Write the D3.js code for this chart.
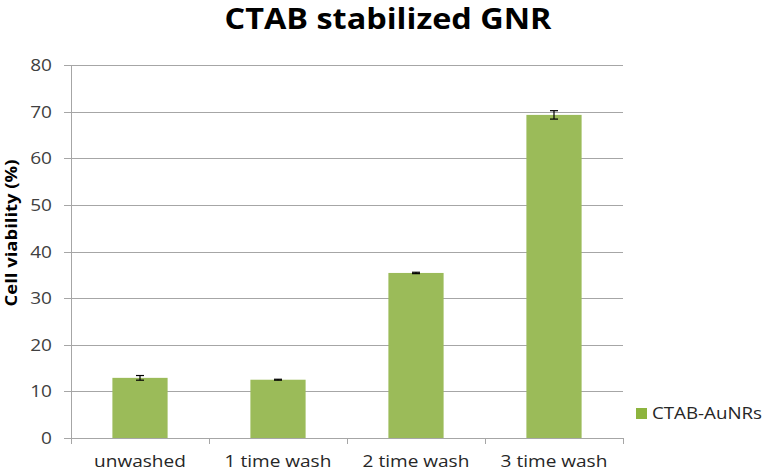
<!DOCTYPE html>
<html>
<head>
<meta charset="utf-8">
<script src="https://cdn.jsdelivr.net/npm/d3@7"></script>
<style>
  body { margin: 0; background: #fff; }
  text { font-family: "Open Sans", "Liberation Sans", sans-serif; }
</style>
</head>
<body>
<div id="chart"></div>
<script>
const categories = ["unwashed", "1 time wash", "2 time wash", "3 time wash"];
const viability = [12.9, 12.5, 35.4, 69.3];
const errors = [0.5, 0.1, 0.15, 0.9];
const yTicks = [0, 10, 20, 30, 40, 50, 60, 70, 80];
const seriesName = "CTAB-AuNRs";

const width = 765;
const height = 474;
const margin = { top: 65, right: 142, bottom: 36, left: 71 };
const green = "#9bbb59";
const gridColor = "#a6a6a6";

const svg = d3.select("#chart").append("svg").attr("width", width).attr("height", height);

const x = d3.scaleBand()
    .domain(categories)
    .range([margin.left, width - margin.right])
    .paddingInner(0.6)
    .paddingOuter(0.3);

const y = d3.scaleLinear()
    .domain([0, 80])
    .range([height - margin.bottom, margin.top]);

// stretch text horizontally a bit, the source font is wider than Open Sans
function widen(sel, factor) {
    sel.each(function () {
        const len = this.getComputedTextLength();
        d3.select(this).attr("textLength", len * factor).attr("lengthAdjust", "spacingAndGlyphs");
    });
}

// gridlines
svg.append("g")
    .selectAll("line")
    .data(yTicks)
    .join("line")
    .attr("x1", margin.left - 7)
    .attr("x2", width - margin.right)
    .attr("y1", (d) => Math.round(y(d)) + 0.5)
    .attr("y2", (d) => Math.round(y(d)) + 0.5)
    .attr("stroke", gridColor)
    .attr("stroke-width", 1);

// y axis line
svg.append("line")
    .attr("x1", margin.left + 0.5).attr("x2", margin.left + 0.5)
    .attr("y1", y(80)).attr("y2", y(0))
    .attr("stroke", gridColor);

// y tick labels
svg.append("g")
    .selectAll("text")
    .data(yTicks)
    .join("text")
    .attr("x", 52)
    .attr("y", (d) => y(d))
    .attr("dy", "0.36em")
    .attr("text-anchor", "end")
    .attr("font-size", 17)
    .attr("fill", "#404040")
    .text((d) => d)
    .call(widen, 1.12);

// x ticks at category boundaries
const bounds = categories.map((c) => x(c) - x.step() * x.paddingInner() / 2);
bounds.push(width - margin.right);
svg.append("g")
    .selectAll("line")
    .data(bounds)
    .join("line")
    .attr("x1", (d) => Math.round(d) + 0.5)
    .attr("x2", (d) => Math.round(d) + 0.5)
    .attr("y1", y(0))
    .attr("y2", y(0) + 6)
    .attr("stroke", gridColor);

// x labels
svg.append("g")
    .selectAll("text")
    .data(categories)
    .join("text")
    .attr("x", (d) => x(d) + x.bandwidth() / 2)
    .attr("y", 467)
    .attr("text-anchor", "middle")
    .attr("font-size", 17)
    .attr("fill", "#262626")
    .text((d) => d)
    .call(widen, 1.12);

// bars
svg.append("g")
    .selectAll("rect")
    .data(categories)
    .join("rect")
    .attr("x", (d) => x(d))
    .attr("y", (d, i) => y(viability[i]))
    .attr("width", x.bandwidth())
    .attr("height", (d, i) => y(0) - y(viability[i]))
    .attr("fill", green);

// error bars
const eb = svg.append("g").attr("stroke", "#000").attr("stroke-width", 1.2);
categories.forEach((c, i) => {
    const cx = x(c) + x.bandwidth() / 2;
    const top = y(viability[i] + errors[i]);
    const bot = y(viability[i] - errors[i]);
    eb.append("line").attr("x1", cx).attr("x2", cx).attr("y1", top).attr("y2", bot);
    eb.append("line").attr("x1", cx - 4).attr("x2", cx + 4).attr("y1", top).attr("y2", top);
    eb.append("line").attr("x1", cx - 4).attr("x2", cx + 4).attr("y1", bot).attr("y2", bot);
});

// title
svg.append("text")
    .attr("x", 388)
    .attr("y", 29)
    .attr("text-anchor", "middle")
    .attr("font-size", 28)
    .attr("font-weight", "bold")
    .attr("fill", "#000")
    .attr("textLength", 327)
    .attr("lengthAdjust", "spacingAndGlyphs")
    .text("CTAB stabilized GNR");

// y axis title
svg.append("text")
    .attr("transform", `translate(17,${233}) rotate(-90)`)
    .attr("text-anchor", "middle")
    .attr("font-size", 16)
    .attr("font-weight", "bold")
    .attr("fill", "#000")
    .attr("textLength", 147)
    .attr("lengthAdjust", "spacingAndGlyphs")
    .text("Cell viability (%)");

// legend
const legend = svg.append("g").attr("transform", "translate(636,408)");
legend.append("rect").attr("width", 11).attr("height", 11).attr("fill", "#8db43e");
legend.append("text")
    .attr("x", 16)
    .attr("y", 5.5)
    .attr("dy", "0.36em")
    .attr("font-size", 16)
    .attr("fill", "#262626")
    .attr("textLength", 110)
    .attr("lengthAdjust", "spacingAndGlyphs")
    .text(seriesName);
</script>
</body>
</html>
